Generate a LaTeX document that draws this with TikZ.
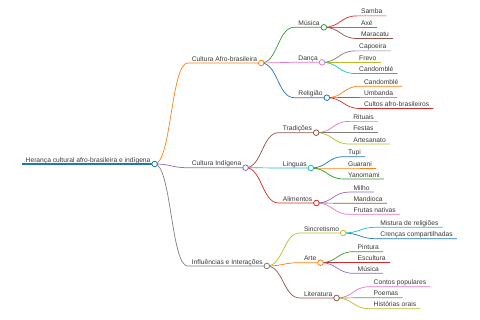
\documentclass[tikz,border=0pt]{standalone}
\usepackage{fontspec}
\setmainfont{Liberation Sans}
\usetikzlibrary{calc,positioning}
\definecolor{MapBlue}{RGB}{31,119,180}
\definecolor{MapOrange}{RGB}{255,127,14}
\definecolor{MapGreen}{RGB}{44,160,44}
\definecolor{MapRed}{RGB}{214,39,40}
\definecolor{MapPurple}{RGB}{148,103,189}
\definecolor{MapBrown}{RGB}{140,86,75}
\definecolor{MapPink}{RGB}{227,119,194}
\definecolor{MapGray}{RGB}{127,127,127}
\definecolor{MapOlive}{RGB}{188,189,34}
\definecolor{MapCyan}{RGB}{23,190,207}
\begin{document}
\begin{tikzpicture}[x=1pt,y=-1pt,
  t/.style={anchor=south west,font=\fontsize{6.7}{8}\selectfont,text=black!78,inner xsep=4pt,inner ysep=0pt,text height=5pt,text depth=1.7pt},
  u/.style={line width=0.7pt},
  k/.style={circle,fill=white,line width=0.8pt,inner sep=0pt,minimum size=5.6pt}
]
  \useasboundingbox (0,0) rectangle (480,320);
  % raiz e primeiro nivel
  \node[t] (root) at (21.5,164) {Herança cultural afro-brasileira e indígena};
  \node[t] (afro) at ($(root.south east)+(33,-101)$) {Cultura Afro-brasileira};
  \node[t] (indig) at ($(root.south east)+(33,3.7)$) {Cultura Indígena};
  \node[t] (influ) at ($(root.south east)+(33,102)$) {Influências e Interações};
  % Cultura Afro-brasileira
  \node[t] (musica) at ($(afro.south east)+(33,-35.7)$) {Música};
  \node[t] (danca) at ($(afro.south east)+(33,-0.7)$) {Dança};
  \node[t] (relig) at ($(afro.south east)+(33,34.7)$) {Religião};
  \node[t] (samba) at ($(musica.south east)+(33,-11.4)$) {Samba};
  \node[t] (axe) at ($(musica.south east)+(33,0)$) {Axé};
  \node[t] (marac) at ($(musica.south east)+(33,11.2)$) {Maracatu};
  \node[t] (capo) at ($(danca.south east)+(33,-11.4)$) {Capoeira};
  \node[t] (frevo) at ($(danca.south east)+(33,0)$) {Frevo};
  \node[t] (cand) at ($(danca.south east)+(33,11.2)$) {Candomblé};
  \node[t] (candr) at ($(relig.south east)+(33,-11.5)$) {Candomblé};
  \node[t] (umban) at ($(relig.south east)+(33,-0.3)$) {Umbanda};
  \node[t] (cultos) at ($(relig.south east)+(33,10.8)$) {Cultos afro-brasileiros};
  % Cultura Indígena
  \node[t] (trad) at ($(indig.south east)+(33,-35)$) {Tradições};
  \node[t] (ling) at ($(indig.south east)+(33,0.3)$) {Línguas};
  \node[t] (alim) at ($(indig.south east)+(33,35.3)$) {Alimentos};
  \node[t] (ritu) at ($(trad.south east)+(33,-11.3)$) {Rituais};
  \node[t] (festa) at ($(trad.south east)+(33,0)$) {Festas};
  \node[t] (artes) at ($(trad.south east)+(33,11.3)$) {Artesanato};
  \node[t] (tupi) at ($(ling.south east)+(33,-11.3)$) {Tupi};
  \node[t] (guar) at ($(ling.south east)+(33,0)$) {Guarani};
  \node[t] (yano) at ($(ling.south east)+(33,11)$) {Yanomami};
  \node[t] (milho) at ($(alim.south east)+(33,-10.9)$) {Milho};
  \node[t] (mandi) at ($(alim.south east)+(33,0.3)$) {Mandioca};
  \node[t] (fruta) at ($(alim.south east)+(33,11.3)$) {Frutas nativas};
  % Influências e Interações
  \node[t] (sincr) at ($(influ.south east)+(33,-33)$) {Sincretismo};
  \node[t] (arte) at ($(influ.south east)+(33,-3.3)$) {Arte};
  \node[t] (liter) at ($(influ.south east)+(33,32)$) {Literatura};
  \node[t] (mistu) at ($(sincr.south east)+(33,-5.7)$) {Mistura de religiões};
  \node[t] (crenc) at ($(sincr.south east)+(33,5.7)$) {Crenças compartilhadas};
  \node[t] (pint) at ($(arte.south east)+(33,-11)$) {Pintura};
  \node[t] (escul) at ($(arte.south east)+(33,0)$) {Escultura};
  \node[t] (musia) at ($(arte.south east)+(33,10.6)$) {Música};
  \node[t] (conto) at ($(liter.south east)+(33,-11.3)$) {Contos populares};
  \node[t] (poema) at ($(liter.south east)+(33,-0.3)$) {Poemas};
  \node[t] (histo) at ($(liter.south east)+(33,10.7)$) {Histórias orais};
  % ligacoes e sublinhados
  \draw[MapBlue,line width=1.2pt] (root.south west) -- (root.south east);
  \foreach \p/\c/\col in {root/afro/MapOrange,root/indig/MapPurple,root/influ/MapGray,
      afro/musica/MapGreen,afro/danca/MapPink,afro/relig/MapBlue,
      musica/samba/MapRed,musica/axe/MapPurple,musica/marac/MapBrown,
      danca/capo/MapGray,danca/frevo/MapOlive,danca/cand/MapCyan,
      relig/candr/MapOrange,relig/umban/MapGreen,relig/cultos/MapRed,
      indig/trad/MapBrown,indig/ling/MapCyan,indig/alim/MapRed,
      trad/ritu/MapPink,trad/festa/MapGray,trad/artes/MapOlive,
      ling/tupi/MapBlue,ling/guar/MapOrange,ling/yano/MapGreen,
      alim/milho/MapPurple,alim/mandi/MapBrown,alim/fruta/MapPink,
      influ/sincr/MapOlive,influ/arte/MapOrange,influ/liter/MapBrown,
      sincr/mistu/MapCyan,sincr/crenc/MapBlue,
      arte/pint/MapGreen,arte/escul/MapRed,arte/musia/MapPurple,
      liter/conto/MapPink,liter/poema/MapGray,liter/histo/MapOlive}
    \draw[\col,u] (\p.south east) .. controls +(16.5,0) and +(-16.5,0) .. (\c.south west) -- (\c.south east);
  % circulos
  \foreach \n/\col in {root/MapBlue,afro/MapOrange,indig/MapPurple,influ/MapGray,
      musica/MapGreen,danca/MapPink,relig/MapBlue,trad/MapBrown,ling/MapCyan,
      alim/MapRed,sincr/MapOlive,arte/MapOrange,liter/MapBrown}
    \node[k,draw=\col] (k-\n) at (\n.south east) {};
\end{tikzpicture}
\end{document}
